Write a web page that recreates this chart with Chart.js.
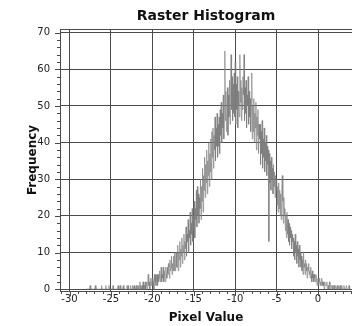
<!DOCTYPE html>
<html>
<head>
<meta charset="utf-8">
<script src="https://cdn.jsdelivr.net/npm/chart.js@4"></script>
<style>
  html, body { margin: 0; padding: 0; background: #fff; }
  #wrap { width: 352px; height: 326px; position: relative; }
</style>
</head>
<body>
<div id="wrap"><canvas id="rasterHist"></canvas></div>
<script>
// histogram bins (pixel value of first bin, bin width)
const binStart = -28;
const binWidth = 0.0625;

// counts per bin, one row per unit of pixel value
const frequency = [
  0, 0, 0, 0, 0, 0, 0, 0, 1, 0, 0, 0, 0, 0, 0, 0,             // -28
  0, 0, 1, 0, 0, 0, 0, 0, 0, 0, 0, 0, 0, 0, 1, 0,             // -27
  0, 0, 0, 0, 0, 0, 1, 0, 0, 0, 0, 0, 1, 0, 0, 0,             // -26
  0, 0, 0, 0, 1, 0, 0, 0, 0, 0, 0, 0, 0, 0, 1, 0,             // -25
  0, 0, 1, 0, 0, 0, 0, 0, 1, 0, 0, 0, 0, 0, 0, 1,             // -24
  0, 1, 0, 0, 0, 0, 1, 0, 0, 0, 1, 0, 0, 1, 0, 0,             // -23
  0, 1, 0, 0, 1, 0, 1, 0, 2, 0, 1, 0, 1, 0, 2, 0,             // -22
  1, 0, 2, 0, 1, 2, 0, 1, 4, 1, 2, 0, 1, 3, 1, 2,             // -21
  3, 1, 2, 0, 4, 2, 4, 1, 3, 4, 1, 4, 2, 3, 5, 2,             // -20
  3, 6, 2, 4, 3, 6, 2, 5, 5, 2, 6, 4, 3, 6, 4, 7,             // -19
  6, 3, 8, 5, 6, 9, 4, 7, 5, 9, 5, 10, 5, 8, 10, 6,           // -18
  6, 12, 5, 10, 8, 13, 6, 11, 9, 14, 7, 12, 10, 15, 8, 13,    // -17
  11, 17, 9, 15, 13, 19, 10, 16, 14, 21, 12, 18, 15, 22, 13, 20, // -16
  16, 24, 14, 22, 19, 27, 17, 28, 20, 26, 18, 25, 22, 30, 19, 28, // -15
  24, 33, 21, 31, 27, 36, 25, 34, 29, 38, 26, 35, 31, 40, 28, 37, // -14
  32, 41, 30, 43, 36, 44, 33, 42, 38, 47, 35, 44, 39, 48, 36, 45, // -13
  39, 47, 37, 49, 42, 51, 40, 48, 44, 53, 41, 50, 65, 46, 54, 43, // -12
  44, 55, 42, 53, 47, 57, 45, 54, 64, 49, 58, 46, 56, 48, 59, 47, // -11
  62, 45, 56, 49, 58, 44, 54, 50, 47, 64, 51, 57, 46, 55, 49, 58, // -10
  53, 64, 46, 55, 48, 57, 44, 53, 50, 58, 45, 54, 47, 52, 43, 51, // -9
  59, 41, 50, 43, 52, 40, 48, 44, 51, 38, 47, 42, 49, 37, 45, 41, // -8
  45, 34, 43, 37, 46, 33, 41, 36, 44, 32, 40, 35, 42, 31, 39, 34, // -7
  38, 13, 37, 29, 35, 27, 36, 30, 33, 26, 34, 28, 32, 25, 31, 27, // -6
  30, 23, 28, 21, 29, 22, 27, 20, 26, 19, 28, 31, 24, 18, 25, 20, // -5
  22, 16, 20, 14, 21, 15, 19, 13, 18, 12, 17, 14, 16, 11, 15, 13, // -4
  14, 9, 13, 8, 15, 10, 12, 7, 13, 9, 11, 6, 12, 8, 10, 6,    // -3
  9, 5, 8, 4, 10, 6, 7, 4, 8, 5, 7, 3, 6, 5, 7, 4,            // -2
  5, 3, 6, 4, 2, 5, 3, 4, 2, 4, 3, 2, 4, 3, 1, 2,             // -1
  3, 1, 2, 3, 1, 2, 1, 3, 2, 1, 2, 1, 0, 2, 1, 1,             // 0
  1, 2, 0, 1, 1, 0, 2, 1, 0, 1, 1, 0, 1, 0, 1, 1,             // 1
  0, 1, 1, 0, 0, 1, 0, 0, 1, 0, 0, 1, 0, 0, 1, 0,             // 2
  0, 0, 1, 0, 0, 0, 0, 1, 0, 0, 0, 0, 1, 0, 0, 0,             // 3
  0                                                           // 4
];

const xTickValues = [-30, -25, -20, -15, -10, -5, 0];
const yTickValues = [0, 10, 20, 30, 40, 50, 60, 70];

const gridColor = "#4a4a4a";

// minor/major tick marks and the top frame line
const tickMarks = {
  id: "tickMarks",
  afterDraw(chart) {
    const { ctx, chartArea } = chart;
    const xs = chart.scales.x;
    const ys = chart.scales.y;
    ctx.save();
    ctx.strokeStyle = gridColor;
    ctx.lineWidth = 1;
    ctx.beginPath();
    for (let v = Math.ceil(xs.min); v <= xs.max; v++) {
      const px = Math.round(xs.getPixelForValue(v)) + 0.5;
      const len = v % 5 === 0 ? 5 : 3;
      ctx.moveTo(px, chartArea.bottom);
      ctx.lineTo(px, chartArea.bottom + len);
    }
    for (let v = 0; v <= ys.max; v += 2) {
      const py = Math.round(ys.getPixelForValue(v)) + 0.5;
      const len = v % 10 === 0 ? 5 : 3;
      ctx.moveTo(chartArea.left - len, py);
      ctx.lineTo(chartArea.left, py);
    }
    ctx.moveTo(chartArea.left, chartArea.top + 0.5);
    ctx.lineTo(chartArea.right, chartArea.top + 0.5);
    ctx.stroke();
    ctx.restore();
  },
};

const points = frequency.map((f, i) => ({ x: binStart + i * binWidth, y: f }));

new Chart(document.getElementById("rasterHist"), {
  type: "line",
  data: {
    datasets: [
      {
        data: points,
        borderColor: "rgba(125,125,125,0.65)",
        borderWidth: 1,
        pointRadius: 0,
        tension: 0,
        fill: false,
      },
    ],
  },
  options: {
    responsive: true,
    maintainAspectRatio: false,
    animation: false,
    layout: { padding: 0 },
    plugins: {
      legend: { display: false },
      tooltip: { enabled: false },
      title: {
        display: true,
        text: "Raster Histogram",
        fullSize: false,
        color: "#111",
        font: { family: "DejaVu Sans", size: 14, weight: "bold", lineHeight: 1.2 },
        padding: { top: 8, bottom: 4.2 },
      },
    },
    scales: {
      x: {
        type: "linear",
        min: -31.15,
        max: 4.1,
        afterBuildTicks: (scale) => {
          scale.ticks = xTickValues.map((v) => ({ value: v }));
        },
        afterFit: (scale) => {
          scale.height = 35;
        },
        grid: { color: gridColor, drawTicks: false },
        border: { color: gridColor },
        ticks: {
          color: "#222",
          padding: 2,
          maxRotation: 0,
          font: { family: "DejaVu Sans", size: 10 },
        },
        title: {
          display: true,
          text: "Pixel Value",
          color: "#111",
          font: { family: "DejaVu Sans", size: 12, weight: "bold", lineHeight: 1.2 },
          padding: { top: 0, bottom: 1 },
        },
      },
      y: {
        min: -0.5,
        max: 71,
        afterBuildTicks: (scale) => {
          scale.ticks = yTickValues.map((v) => ({ value: v }));
        },
        afterFit: (scale) => {
          scale.width = 60;
        },
        grid: { color: gridColor, drawTicks: false },
        border: { color: gridColor },
        ticks: {
          color: "#222",
          padding: 10,
          font: { family: "DejaVu Sans", size: 10 },
        },
        title: {
          display: true,
          text: "Frequency",
          color: "#111",
          font: { family: "DejaVu Sans", size: 12, weight: "bold", lineHeight: 1.2 },
          padding: { top: 26, bottom: 0 },
        },
      },
    },
  },
  plugins: [tickMarks],
});
</script>
</body>
</html>
